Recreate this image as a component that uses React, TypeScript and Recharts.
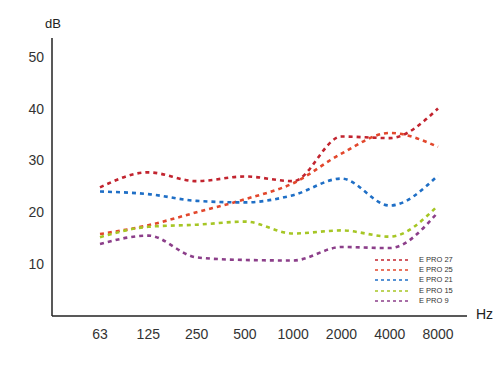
import React from 'react';
import { LineChart, Line, XAxis, YAxis } from 'recharts';

const bands = ['63', '125', '250', '500', '1000', '2000', '4000', '8000'];
const epro27 = [24.8, 27.7, 26.0, 26.9, 26.0, 34.6, 34.3, 40.0];
const epro25 = [15.8, 17.5, 20.0, 22.5, 25.6, 31.3, 35.3, 32.6];
const epro21 = [24.0, 23.5, 22.2, 21.9, 23.3, 26.5, 21.3, 27.1];
const epro15 = [15.2, 17.2, 17.6, 18.2, 15.9, 16.5, 15.3, 21.3];
const epro9 = [13.9, 15.5, 11.3, 10.8, 10.7, 13.3, 13.1, 20.0];
const yTicks = [10, 20, 30, 40, 50];

const series = [
  { key: 'epro27', name: 'E PRO 27', values: epro27, color: '#c2242f' },
  { key: 'epro25', name: 'E PRO 25', values: epro25, color: '#e2472c' },
  { key: 'epro21', name: 'E PRO 21', values: epro21, color: '#1f6fc6' },
  { key: 'epro15', name: 'E PRO 15', values: epro15, color: '#a6c625' },
  { key: 'epro9', name: 'E PRO 9', values: epro9, color: '#8c3f8a' },
];

const data = bands.map((band, i) => {
  const row: Record<string, string | number> = { band };
  series.forEach((s) => {
    row[s.key] = s.values[i];
  });
  return row;
});

const font = 'Liberation Sans, Arial, sans-serif';
const tickStyle = { fill: '#333', fontSize: 14, fontFamily: font };

export default function App() {
  return (
    <div style={{ position: 'absolute', left: 0, top: 0, width: 504, height: 367, background: '#fff' }}>
      <LineChart width={504} height={367} data={data} margin={{ top: 38, right: 37, left: 12, bottom: 21 }}>
        <XAxis
          dataKey="band"
          padding={{ left: 48, right: 29 }}
          axisLine={{ stroke: '#222', strokeWidth: 1.5 }}
          tickLine={false}
          tick={tickStyle}
          tickMargin={7}
          interval={0}
        />
        <YAxis
          width={40}
          domain={[0, 53.6]}
          ticks={yTicks}
          allowDataOverflow
          axisLine={{ stroke: '#222', strokeWidth: 1.5 }}
          tickLine={false}
          tick={tickStyle}
        />
        {series.map((s) => (
          <Line
            key={s.key}
            type="monotone"
            dataKey={s.key}
            name={s.name}
            stroke={s.color}
            strokeWidth={2.6}
            strokeDasharray="4 4"
            dot={false}
            isAnimationActive={false}
          />
        ))}
      </LineChart>
      {/* legend, bottom right inside the plot */}
      <div style={{ position: 'absolute', left: 375, top: 255 }}>
        {series.map((s) => (
          <div key={s.key} style={{ display: 'flex', alignItems: 'center', height: 10.2 }}>
            <svg width={36} height={6} style={{ marginRight: 8 }}>
              <line x1={0} y1={3} x2={36} y2={3} stroke={s.color} strokeWidth={1.6} strokeDasharray="3 3" />
            </svg>
            <span style={{ fontSize: 7.5, lineHeight: '10px', color: '#333', fontFamily: font }}>{s.name}</span>
          </div>
        ))}
      </div>
      <div style={{ position: 'absolute', left: 45, top: 16, fontSize: 13, color: '#222', fontFamily: font }}>
        dB
      </div>
      <div style={{ position: 'absolute', left: 476, top: 306, fontSize: 14, color: '#222', fontFamily: font }}>
        Hz
      </div>
    </div>
  );
}
